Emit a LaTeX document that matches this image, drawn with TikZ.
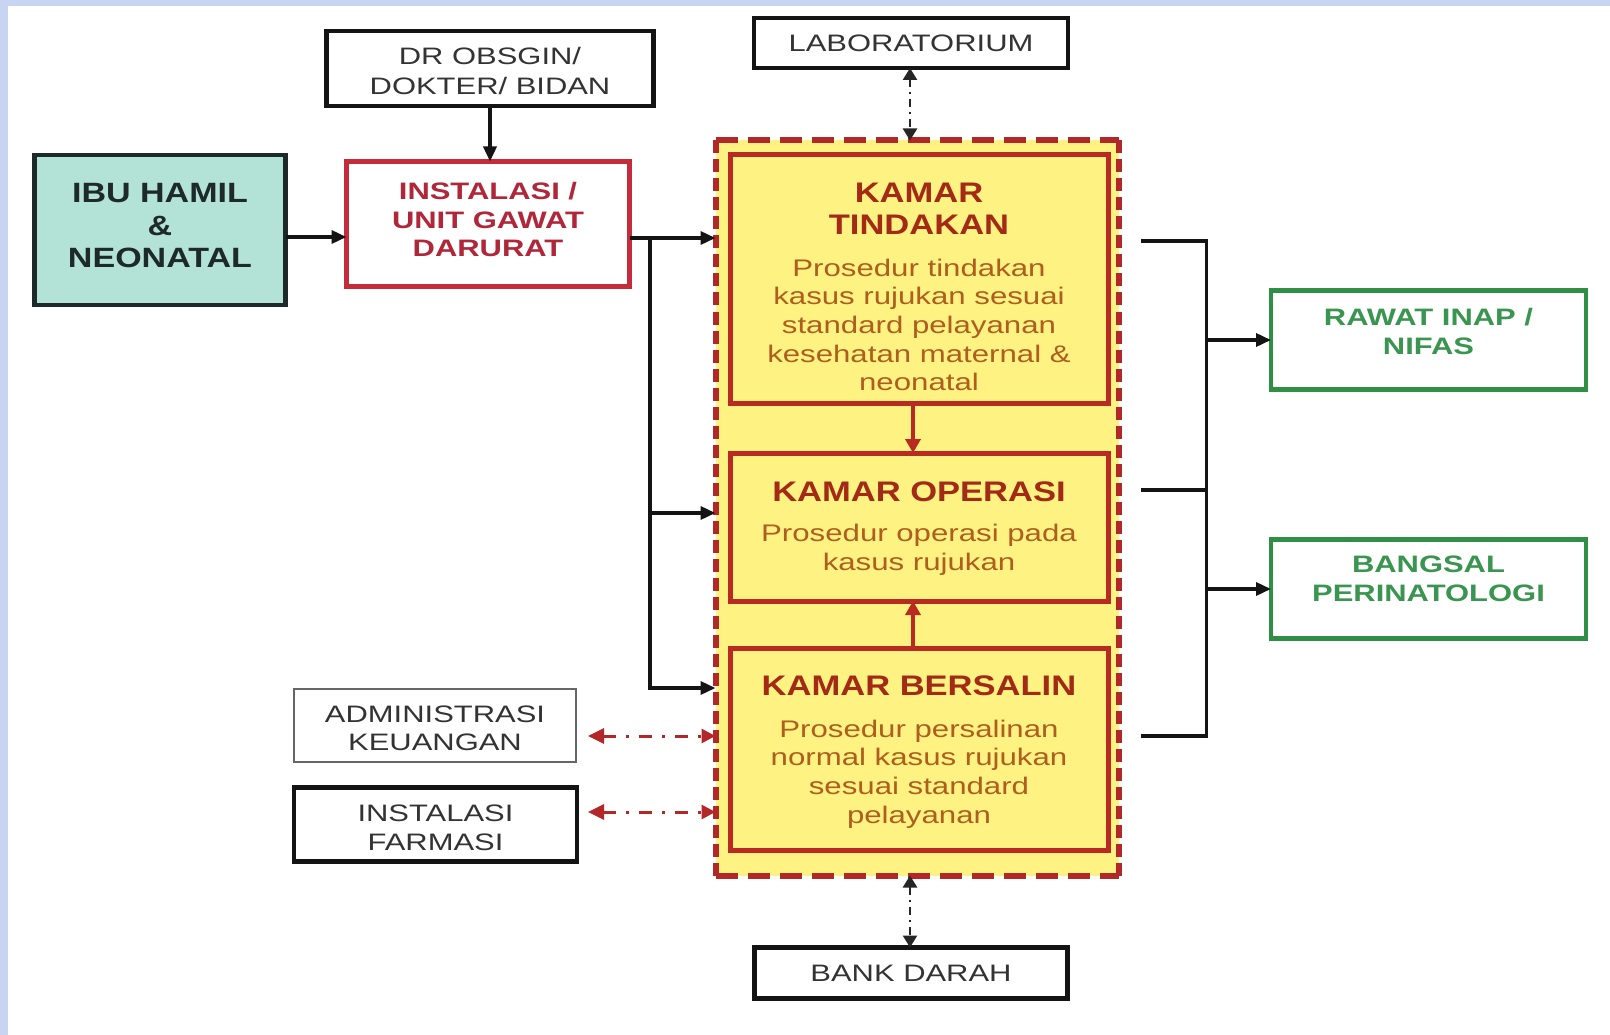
\documentclass[tikz,border=0pt]{standalone}
\usepackage{fontspec}
\newfontfamily\fa{Liberation Sans}[FakeStretch=1.22]
\newfontfamily\fb{Liberation Sans}[FakeStretch=1.3]
\usetikzlibrary{arrows.meta,calc}
\definecolor{bgband}{HTML}{C8D5F2}
\definecolor{mint}{HTML}{B3E3D6}
\definecolor{ylw}{HTML}{FEF382}
\definecolor{redbd}{HTML}{B82A22}
\definecolor{titlec}{HTML}{A32A17}
\definecolor{bodyc}{HTML}{AE5E1E}
\definecolor{ugdbd}{HTML}{C42B3B}
\definecolor{ugdtx}{HTML}{B0273A}
\definecolor{grbd}{HTML}{2F8F45}
\definecolor{grtx}{HTML}{3A9550}
\definecolor{darktx}{HTML}{333333}
\definecolor{ibutx}{HTML}{1E2A2A}
\definecolor{dashred}{HTML}{B22727}
\begin{document}
\begin{tikzpicture}[x=1pt,y=-1pt,
  box/.style={draw,rectangle,inner sep=0pt,outer sep=0pt},
  blackbox/.style={box,draw=black!92,line width=4.5pt,fill=white},
  kamar/.style={box,draw=redbd,line width=5pt,fill=ylw,minimum width=378pt},
  greenbox/.style={box,draw=grbd,line width=4.5pt,fill=white,minimum width=315pt,minimum height=99pt},
  txt/.style={align=center,inner sep=0pt},
  plain/.style={txt,text=darktx,font=\fb\fontsize{23.8}{29}\selectfont},
  btitle/.style={txt,text=titlec,font=\fa\bfseries\fontsize{28.3}{32}\selectfont},
  bbody/.style={txt,text=bodyc,font=\fb\fontsize{24}{28.7}\selectfont},
  conn/.style={line width=3.5pt,draw=black!92},
  arr/.style={conn,-{Triangle[length=15pt,width=13pt]}},
  rarr/.style={line width=3.5pt,draw=redbd,-{Triangle[length=14pt,width=15pt]}},
  ddarr/.style={line width=2.5pt,draw=black!85,dash pattern=on 8pt off 5pt on 2pt off 5pt,
    {Triangle[length=12pt,width=14pt]}-{Triangle[length=12pt,width=14pt]}},
  rdarr/.style={line width=3pt,draw=dashred,dash pattern=on 13pt off 10pt on 3pt off 10pt,
    {Triangle[length=16pt,width=15pt]}-{Triangle[length=14pt,width=14pt]}}
]
\useasboundingbox (0,0) rectangle (1610,1035);
\fill[bgband] (0,0) rectangle (1610,1035);
\fill[white] (8,6) rectangle (1610,1035);

% top boxes
\node[blackbox,minimum width=327pt,minimum height=75pt] (dr) at (490,68.5) {};
\node[plain,font=\fb\fontsize{23.8}{30}\selectfont] (drt) at (490,71) {DR OBSGIN/\\DOKTER/ BIDAN};
\node[blackbox,minimum width=314pt,minimum height=50pt] (lab) at (911,43) {};
\node[plain] (labt) at (911,43) {LABORATORIUM};

% left boxes
\node[box,draw=ibutx,line width=4.5pt,fill=mint,minimum width=251pt,minimum height=150pt] (ibu) at (160,230) {};
\node[txt,text=ibutx,font=\fa\bfseries\fontsize{27.9}{32.5}\selectfont] (ibut) at (160,226) {IBU HAMIL\\\&\\NEONATAL};
\node[box,draw=ugdbd,line width=4.5pt,fill=white,minimum width=283pt,minimum height=125pt] (ugd) at (488,224) {};
\node[txt,text=ugdtx,font=\fb\bfseries\fontsize{23.8}{28.8}\selectfont] (ugdt) at (488,219.5) {INSTALASI /\\UNIT GAWAT\\DARURAT};

% central container
\node[rectangle,fill=ylw,minimum width=403pt,minimum height=735pt,inner sep=0pt,outer sep=0pt] (outer) at (917,508) {};
\node[kamar,minimum height=248pt] (kt) at (919,279) {};
\node[btitle] (ktt) at (919,209) {KAMAR\\TINDAKAN};
\node[bbody] (ktb) at (919,325) {Prosedur tindakan\\kasus rujukan sesuai\\standard pelayanan\\kesehatan maternal \&\\neonatal};
\node[kamar,minimum height=148pt] (ko) at (919,527) {};
\node[btitle] (kot) at (919,492) {KAMAR OPERASI};
\node[bbody] (kob) at (919,550) {Prosedur operasi pada\\kasus rujukan};
\node[kamar,minimum height=202pt] (kb) at (919,749) {};
\node[btitle] (kbt) at (919,686) {KAMAR BERSALIN};
\node[bbody] (kbb) at (919,774) {Prosedur persalinan\\normal kasus rujukan\\sesuai standard\\pelayanan};
\draw[dashred,line width=6pt,dash pattern=on 22pt off 10pt] (outer.north west) -- (outer.north east);
\draw[dashred,line width=6pt,dash pattern=on 22pt off 10pt] (outer.south west) -- (outer.south east);
\draw[dashred,line width=6pt,dash pattern=on 13pt off 6pt] (outer.north west) -- (outer.south west);
\draw[dashred,line width=6pt,dash pattern=on 13pt off 6pt] (outer.north east) -- (outer.south east);

% right boxes
\node[greenbox] (rawat) at (1428.5,340) {};
\node[txt,text=grtx,font=\fb\bfseries\fontsize{23.8}{29}\selectfont] (rawatt) at (1428.5,331.5) {RAWAT INAP /\\NIFAS};
\node[greenbox] (bangsal) at (1428.5,589) {};
\node[txt,text=grtx,font=\fb\bfseries\fontsize{23.8}{29}\selectfont] (bangsalt) at (1428.5,579) {BANGSAL\\PERINATOLOGI};

% lower left boxes
\node[box,draw=black!60,line width=2pt,fill=white,minimum width=282pt,minimum height=73pt] (adm) at (435,725.5) {};
\node[plain,font=\fb\fontsize{23.8}{27.5}\selectfont] (admt) at (435,728.5) {ADMINISTRASI\\KEUANGAN};
\node[blackbox,minimum width=283pt,minimum height=74pt] (farm) at (435.5,824.5) {};
\node[plain] (farmt) at (435.5,827.5) {INSTALASI\\FARMASI};

% bottom box
\node[blackbox,minimum width=313pt,minimum height=51pt] (bank) at (911,973) {};
\node[plain] (bankt) at (911,973) {BANK DARAH};

% connectors left
\coordinate (y237) at (0,237);
\coordinate (y238) at (0,238);
\coordinate (y513) at (0,513);
\coordinate (tr1) at (650,238);
\coordinate (tr2) at (650,688);
\draw[arr] (ibu.east |- y237) -- (ugd.west |- y237);
\draw[arr] (dr.south) -- (dr.south |- ugd.north);
\draw[arr] (ugd.east |- y238) -- (outer.west |- y238);
\draw[arr] (tr1) |- (outer.west |- tr2);
\draw[arr] (tr1 |- y513) -- (outer.west |- y513);

% lab and bank
\draw[ddarr] (lab.south -| 910,0) -- (outer.north -| 910,0);
\draw[ddarr] (outer.south -| 910,0) -- (bank.north -| 910,0);

% internal red arrows
\draw[rarr] ($(kt.south)+(-6,0)$) -- ($(ko.north)+(-6,0)$);
\draw[rarr] ($(kb.north)+(-6,0)$) -- ($(ko.south)+(-6,0)$);

% right bracket
\coordinate (b1) at (1141,241);
\coordinate (b2) at (1206.5,241);
\coordinate (b3) at (1141,490);
\coordinate (b4) at (1206.5,490);
\coordinate (b5) at (1141,736);
\coordinate (b6) at (1206.5,736);
\draw[conn] (b1) -- (b2) -- (b6) -- (b5);
\draw[conn] (b3) -- (b4);
\draw[arr] (b2 |- rawat.west) -- (rawat.west);
\draw[arr] (b2 |- bangsal.west) -- (bangsal.west);

% red dash-dot
\coordinate (a1) at (588,736);
\coordinate (a2) at (588,812);
\draw[rdarr] (a1) -- (outer.west |- a1);
\draw[rdarr] (a2) -- (outer.west |- a2);
\end{tikzpicture}
\end{document}
